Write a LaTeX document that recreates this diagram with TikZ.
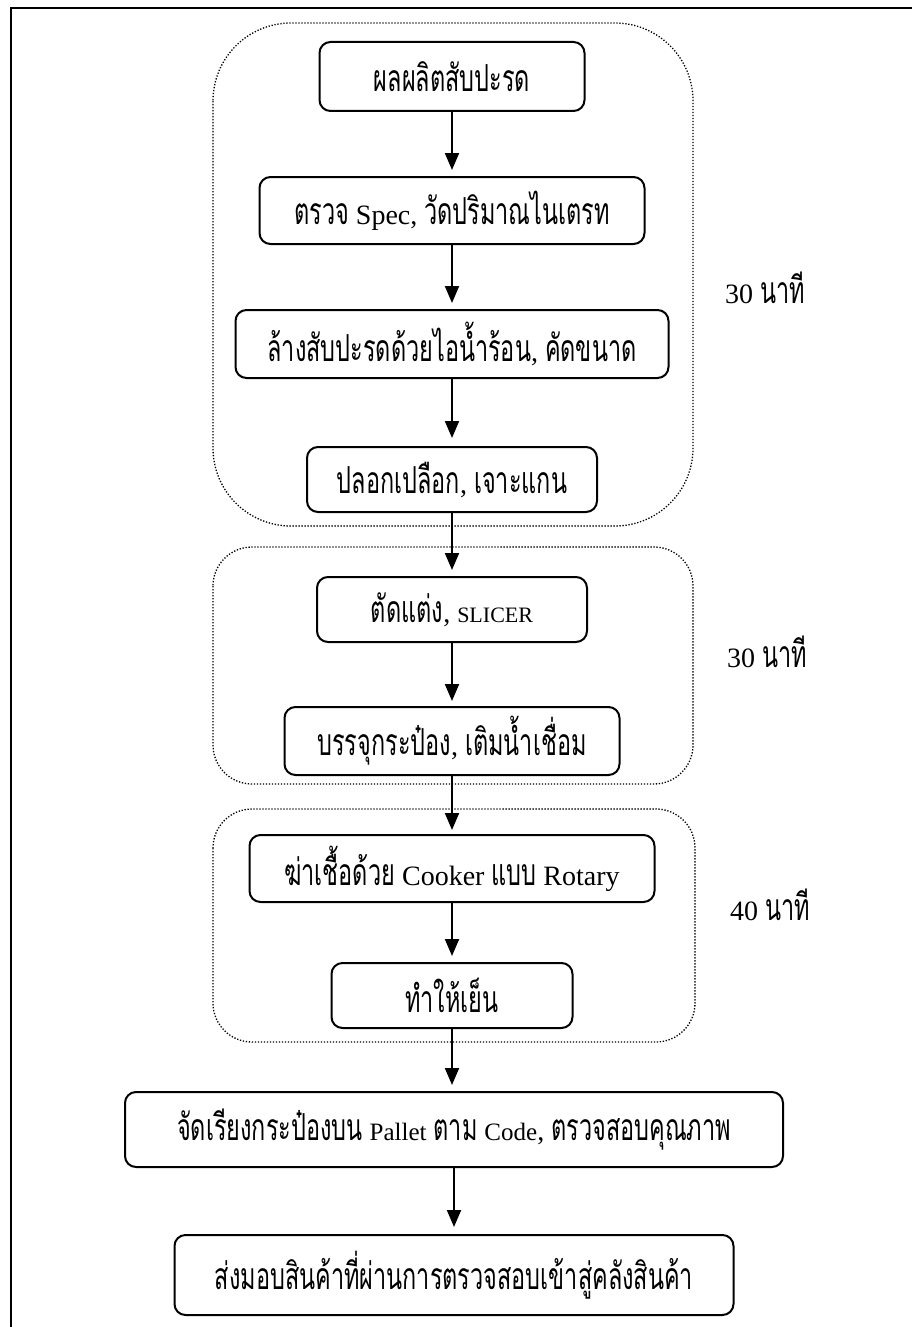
\documentclass[tikz,border=0pt]{standalone}
\usepackage{fontspec}
\setmainfont{Liberation Serif}
\newfontfamily\thaifont[Script=Thai,FakeStretch=0.63,Scale=1.33]{Loma}
\usetikzlibrary{arrows.meta}
\newcommand\tx[1]{{\thaifont #1}}
\begin{document}
\begin{tikzpicture}[x=1pt,y=-1pt,
  stepbox/.style={draw, line width=2pt, rounded corners=11pt, inner sep=0pt,
    font=\fontsize{28}{32}\selectfont, align=center},
  grp/.style={draw, line width=1.3pt, dash pattern=on 1.3pt off 1.7pt},
  arr/.style={-{Triangle[length=17pt,width=14pt]}, line width=2pt},
  lbl/.style={font=\fontsize{28}{32}\selectfont, anchor=base west, inner sep=0pt}]

\useasboundingbox (0,0) rectangle (912,1327);
\clip (0,0) rectangle (912,1327);
\draw[line width=2.6pt] (11,8) rectangle (960,1380);

% groups
\draw[grp, rounded corners=78pt] (213,23) rectangle (693,526);
\draw[grp, rounded corners=39pt] (213,547) rectangle (693,784);
\draw[grp, rounded corners=39pt] (213,809) rectangle (695,1042);

% steps
\node[stepbox, minimum width=265pt, minimum height=69pt] (b1) at (452,76.5) {\tx{ผลผลิตสับปะรด}};
\node[stepbox, minimum width=385pt, minimum height=67pt] (b2) at (452,210.5) {\tx{ตรวจ} Spec, \tx{วัดปริมาณไนเตรท}};
\node[stepbox, minimum width=433pt, minimum height=68pt] (b3) at (452,344) {\tx{ล้างสับปะรดด้วยไอน้ำร้อน}, \tx{คัดขนาด}};
\node[stepbox, minimum width=290pt, minimum height=65pt] (b4) at (452,479.5) {\tx{ปลอกเปลือก}, \tx{เจาะแกน}};
\node[stepbox, minimum width=270pt, minimum height=65pt] (b5) at (452,609.5) {\tx{ตัดแต่ง}, {\fontsize{22}{26}\selectfont SLICER}};
\node[stepbox, minimum width=335pt, minimum height=68pt] (b6) at (452,741) {\tx{บรรจุกระป๋อง}, \tx{เติมน้ำเชื่อม}};
\node[stepbox, minimum width=405pt, minimum height=67pt] (b7) at (452,868.5) {\tx{ฆ่าเชื้อด้วย} Cooker \tx{แบบ} Rotary};
\node[stepbox, minimum width=241pt, minimum height=65pt] (b8) at (452,995.5) {\tx{ทำให้เย็น}};
\node[stepbox, minimum width=658pt, minimum height=75pt] (b9) at (454,1129.5) {\tx{จัดเรียงกระป๋องบน} {\fontsize{25}{28}\selectfont Pallet} \tx{ตาม} {\fontsize{25}{28}\selectfont Code}, \tx{ตรวจสอบคุณภาพ}};
\node[stepbox, minimum width=559pt, minimum height=80pt] (b10) at (454,1275) {\tx{ส่งมอบสินค้าที่ผ่านการตรวจสอบเข้าสู่คลังสินค้า}};

% arrows
\draw[arr] (b1.south) -- ([yshift=6pt]b2.north);
\draw[arr] (b2.south) -- ([yshift=6pt]b3.north);
\draw[arr] (b3.south) -- ([yshift=8pt]b4.north);
\draw[arr] (b4.south) -- ([yshift=6pt]b5.north);
\draw[arr] (b5.south) -- ([yshift=5pt]b6.north);
\draw[arr] (b6.south) -- ([yshift=4pt]b7.north);
\draw[arr] (b7.south) -- ([yshift=6pt]b8.north);
\draw[arr] (b8.south) -- ([yshift=6pt]b8.south |- b9.north);
\draw[arr] (b9.south) -- ([yshift=7pt]b10.north);

% time labels
\node[lbl] (t1) at (725,303) {30 \tx{นาที}};
\node[lbl] (t2) at (727,667) {30 \tx{นาที}};
\node[lbl] (t3) at (730,920) {40 \tx{นาที}};
\end{tikzpicture}
\end{document}
